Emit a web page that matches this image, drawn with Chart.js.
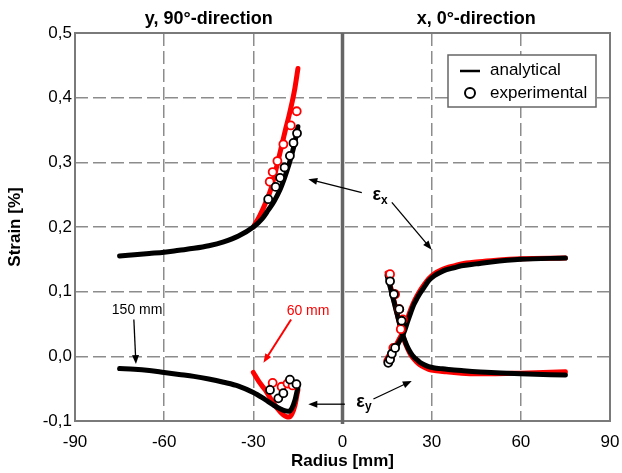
<!DOCTYPE html>
<html>
<head>
<meta charset="utf-8">
<script src="https://cdn.jsdelivr.net/npm/chart.js@4.4.0/dist/chart.umd.min.js"></script>
<style>
  html, body { margin: 0; padding: 0; background: #fff; }
  #wrap { width: 622px; height: 473px; }
</style>
</head>
<body>
<div id="wrap"><canvas id="chart" width="622" height="473"></canvas></div>
<script>
// axis ticks
const xTickLabels = ['-90', '-60', '-30', '0', '30', '60', '90']
const yTickLabels = ['-0,1', '0,0', '0,1', '0,2', '0,3', '0,4', '0,5']

// y, 90°-direction (left half), 150 mm specimen (black)
const left150X = [-75, -70, -65, -60, -55, -50, -45, -40, -35, -30, -27, -25, -23, -21, -19.5, -18, -17, -16, -15]
const left150Ex = [0.155, 0.157, 0.159, 0.161, 0.164, 0.167, 0.171, 0.177, 0.186, 0.200, 0.213, 0.226, 0.240, 0.258, 0.276, 0.297, 0.313, 0.332, 0.355]
const left150Ey = [-0.019, -0.020, -0.022, -0.025, -0.028, -0.031, -0.035, -0.040, -0.046, -0.056, -0.064, -0.070, -0.076, -0.081, -0.084, -0.085, -0.080, -0.068, -0.048]

// y, 90°-direction, 60 mm specimen (red)
const left60X = [-30, -28, -26, -24, -22, -20, -19, -18, -17, -16, -15]
const left60Ex = [0.200, 0.216, 0.236, 0.260, 0.296, 0.335, 0.354, 0.372, 0.392, 0.415, 0.445]
const left60Ey = [-0.025, -0.040, -0.052, -0.067, -0.080, -0.090, -0.093, -0.094, -0.089, -0.076, -0.052]

// x, 0°-direction (right half)
const rightX = [15, 16, 17, 18, 19, 20, 21, 22, 23, 24, 25, 26, 27.5, 29, 31, 33, 35, 37.5, 40, 45, 50, 60, 75]
const right150Ex = [-0.010, -0.003, 0.005, 0.013, 0.022, 0.030, 0.041, 0.055, 0.068, 0.080, 0.089, 0.097, 0.107, 0.117, 0.125, 0.130, 0.134, 0.137, 0.140, 0.143, 0.146, 0.150, 0.152]
const right150Ey = [0.125, 0.108, 0.090, 0.072, 0.054, 0.037, 0.024, 0.013, 0.005, -0.001, -0.005, -0.009, -0.013, -0.016, -0.018, -0.019, -0.020, -0.021, -0.022, -0.024, -0.025, -0.027, -0.029]
const right60Ex = [-0.008, 0.000, 0.008, 0.017, 0.026, 0.035, 0.047, 0.060, 0.073, 0.084, 0.093, 0.101, 0.111, 0.120, 0.128, 0.133, 0.137, 0.140, 0.143, 0.146, 0.148, 0.151, 0.152]
const right60Ey = [0.129, 0.111, 0.092, 0.073, 0.054, 0.036, 0.022, 0.011, 0.002, -0.004, -0.009, -0.013, -0.017, -0.020, -0.022, -0.023, -0.024, -0.025, -0.026, -0.027, -0.027, -0.026, -0.024]

// experimental points
const exp150X = [-25, -22.5, -21, -19.5, -17.7, -16.5, -15.3, -24.4, -21.6, -19.9, -17.7, -15.5, 15.4, 16, 16.6, 17.7, 19.9, 19.1, 17.3, 16]
const exp150Y = [0.243, 0.262, 0.276, 0.292, 0.310, 0.330, 0.345, -0.052, -0.065, -0.057, -0.036, -0.043, -0.010, -0.005, 0.004, 0.013, 0.055, 0.073, 0.096, 0.116]
const exp60X = [-24.5, -23.5, -21.9, -19.9, -17.4, -15.4, -23.5, -20.5, -18.5, -16.8, 15.4, 16, 17.1, 19.6, 20.3, 19.1, 17.7, 16]
const exp60Y = [0.270, 0.285, 0.302, 0.328, 0.357, 0.379, -0.041, -0.047, -0.042, -0.045, -0.007, -0.002, 0.013, 0.042, 0.057, 0.073, 0.096, 0.127]

const BLACK = '#000000'
const RED = '#ff0000'
const FONT = '"Liberation Sans", Arial, sans-serif'

const pts = (xs, ys) => xs.map((x, i) => ({ x, y: ys[i] }))

const lineSet = (data, color, order) => ({
  data,
  showLine: true,
  borderColor: color,
  borderWidth: 5,
  borderCapStyle: 'round',
  borderJoinStyle: 'round',
  cubicInterpolationMode: 'monotone',
  pointRadius: 0,
  order
})

const markSet = (data, color, order) => ({
  data,
  showLine: false,
  pointStyle: 'circle',
  pointRadius: 4,
  borderWidth: 1.8,
  borderColor: color,
  pointBackgroundColor: '#ffffff',
  order
})

// annotations (data coordinates)
const arrows = [
  { from: [-70.2, 0.057], to: [-69.5, -0.012], color: BLACK, width: 1.3 },
  { from: [-17.3, 0.057], to: [-26.6, -0.010], color: RED, width: 2 },
  { from: [6.5, 0.253], to: [-11.5, 0.274], color: BLACK, width: 1.3 },
  { from: [16.6, 0.238], to: [30, 0.165], color: BLACK, width: 1.3 },
  { from: [0.8, -0.074], to: [-11.5, -0.074], color: BLACK, width: 1.3 },
  { from: [10.4, -0.066], to: [23.3, -0.038], color: BLACK, width: 1.3 }
]
const notes = [
  { text: '150 mm', at: [-69.1, 0.071], color: BLACK },
  { text: '60 mm', at: [-11.6, 0.070], color: RED }
]
const strainLabels = [
  { sym: 'ε', sub: 'x', at: [12.6, 0.246] },
  { sym: 'ε', sub: 'y', at: [7.2, -0.074] }
]

function drawArrow(ctx, x1, y1, x2, y2, color, width) {
  const ang = Math.atan2(y2 - y1, x2 - x1)
  const c = Math.cos(ang), s = Math.sin(ang)
  const len = 9, half = 3.5
  ctx.strokeStyle = color
  ctx.fillStyle = color
  ctx.lineWidth = width
  ctx.beginPath()
  ctx.moveTo(x1, y1)
  ctx.lineTo(x2 - c * len * 0.8, y2 - s * len * 0.8)
  ctx.stroke()
  ctx.beginPath()
  ctx.moveTo(x2, y2)
  ctx.lineTo(x2 - c * len - s * half, y2 - s * len + c * half)
  ctx.lineTo(x2 - c * len + s * half, y2 - s * len - c * half)
  ctx.closePath()
  ctx.fill()
}

const decor = {
  id: 'decor',
  beforeDatasetsDraw(chart) {
    const { ctx, chartArea: a, scales: { x } } = chart
    ctx.save()
    ctx.strokeStyle = '#7a7a7a'
    ctx.lineWidth = 2
    ctx.strokeRect(a.left, a.top, a.right - a.left, a.bottom - a.top)
    const x0 = x.getPixelForValue(0)
    ctx.strokeStyle = '#666666'
    ctx.lineWidth = 3.5
    ctx.beginPath()
    ctx.moveTo(x0, a.top)
    ctx.lineTo(x0, a.bottom + 3)
    ctx.stroke()
    ctx.restore()
  },
  afterDraw(chart) {
    const { ctx, chartArea: a, scales: { x, y } } = chart
    const px = v => x.getPixelForValue(v)
    const py = v => y.getPixelForValue(v)
    ctx.save()

    // section titles
    ctx.fillStyle = '#000'
    ctx.font = 'bold 18px ' + FONT
    ctx.textAlign = 'center'
    ctx.textBaseline = 'middle'
    const x0 = px(0)
    ctx.fillText('y, 90°-direction', (a.left + x0) / 2, 19)
    ctx.fillText('x, 0°-direction', (x0 + a.right) / 2, 19)

    // arrows and notes
    arrows.forEach(ar => drawArrow(ctx, px(ar.from[0]), py(ar.from[1]), px(ar.to[0]), py(ar.to[1]), ar.color, ar.width))
    ctx.font = '14px ' + FONT
    notes.forEach(n => {
      ctx.fillStyle = n.color
      ctx.fillText(n.text, px(n.at[0]), py(n.at[1]))
    })
    strainLabels.forEach(l => {
      const cx = px(l.at[0]), cy = py(l.at[1])
      ctx.fillStyle = '#000'
      ctx.font = 'bold 18px ' + FONT
      ctx.textAlign = 'right'
      ctx.fillText(l.sym, cx + 1, cy - 2)
      ctx.font = 'bold 12px ' + FONT
      ctx.textAlign = 'left'
      ctx.fillText(l.sub, cx + 1, cy + 3)
    })

    // legend
    const bw = 148, bh = 52
    const bx = a.right - 14 - bw, by = a.top + 22
    ctx.fillStyle = '#fff'
    ctx.fillRect(bx, by, bw, bh)
    ctx.strokeStyle = '#666'
    ctx.lineWidth = 1.5
    ctx.strokeRect(bx, by, bw, bh)
    ctx.strokeStyle = '#000'
    ctx.lineWidth = 2.5
    ctx.beginPath()
    ctx.moveTo(bx + 12, by + 16)
    ctx.lineTo(bx + 32, by + 16)
    ctx.stroke()
    ctx.lineWidth = 2
    ctx.beginPath()
    ctx.arc(bx + 22, by + 38, 5, 0, Math.PI * 2)
    ctx.stroke()
    ctx.fillStyle = '#000'
    ctx.font = '17px ' + FONT
    ctx.textAlign = 'left'
    ctx.textBaseline = 'middle'
    ctx.fillText('analytical', bx + 42, by + 15)
    ctx.fillText('experimental', bx + 42, by + 38)
    ctx.restore()
  }
}

const gridColor = (ctx, edges) => {
  const v = ctx.tick ? ctx.tick.value : null
  if (v === null) return 'rgba(0,0,0,0)'
  return edges.some(e => Math.abs(v - e) < 1e-6) ? 'rgba(0,0,0,0)' : '#8c8c8c'
}

new Chart(document.getElementById('chart'), {
  type: 'scatter',
  data: {
    datasets: [
      markSet(pts(exp150X, exp150Y), BLACK, 0),
      markSet(pts(exp60X, exp60Y), RED, 1),
      lineSet(pts(left150X, left150Ex), BLACK, 2),
      lineSet(pts(left150X, left150Ey), BLACK, 2),
      lineSet(pts(rightX, right150Ex), BLACK, 2),
      lineSet(pts(rightX, right150Ey), BLACK, 2),
      lineSet(pts(left60X, left60Ex), RED, 3),
      lineSet(pts(left60X, left60Ey), RED, 3),
      lineSet(pts(rightX, right60Ex), RED, 3),
      lineSet(pts(rightX, right60Ey), RED, 3)
    ]
  },
  options: {
    responsive: false,
    animation: false,
    devicePixelRatio: 1,
    layout: { padding: { top: 33, right: 12, left: 0, bottom: 0 } },
    plugins: {
      legend: { display: false },
      tooltip: { enabled: false }
    },
    scales: {
      x: {
        type: 'linear',
        min: -90,
        max: 90,
        afterFit: s => {
          s.height = 52
          s.paddingLeft = 0
          s.paddingRight = 0
        },
        ticks: {
          stepSize: 30,
          autoSkip: false,
          maxRotation: 0,
          padding: 11,
          color: '#000',
          font: { family: FONT, size: 17 },
          callback: (v, i) => xTickLabels[i]
        },
        grid: {
          drawTicks: false,
          lineWidth: 1.5,
          color: ctx => gridColor(ctx, [-90, 0, 90])
        },
        border: { display: false, dash: [13, 5] },
        title: {
          display: true,
          text: 'Radius [mm]',
          color: '#000',
          font: { family: FONT, size: 17, weight: 'bold' },
          padding: { top: 0, bottom: 1 }
        }
      },
      y: {
        type: 'linear',
        min: -0.1,
        max: 0.5,
        afterFit: s => {
          s.width = 75
          s.paddingTop = 0
          s.paddingBottom = 0
        },
        ticks: {
          stepSize: 0.1,
          autoSkip: false,
          padding: 3,
          color: '#000',
          font: { family: FONT, size: 17 },
          callback: (v, i) => yTickLabels[i]
        },
        grid: {
          drawTicks: false,
          lineWidth: 1.5,
          color: ctx => gridColor(ctx, [-0.1, 0.5])
        },
        border: { display: false, dash: [13, 5] },
        title: {
          display: true,
          text: 'Strain [%]',
          color: '#000',
          font: { family: FONT, size: 17, weight: 'bold' },
          padding: { top: 5, bottom: 0 }
        }
      }
    }
  },
  plugins: [decor]
})
</script>
</body>
</html>
